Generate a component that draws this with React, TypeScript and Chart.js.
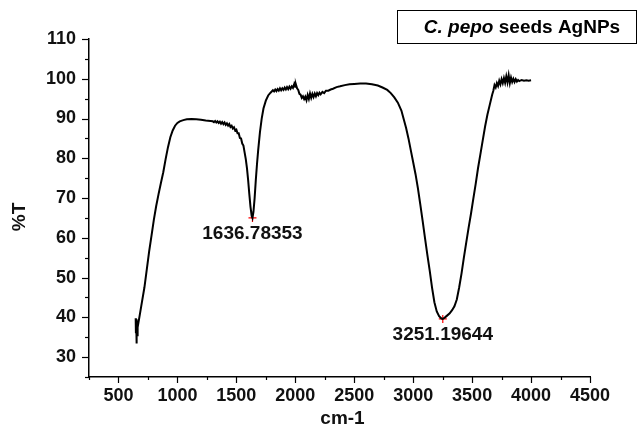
import React, { useEffect, useRef } from "react";
import { Chart, registerables } from "chart.js";

Chart.register(...registerables);

// Wavenumber (cm-1) and transmittance (%T)
const waveNumbers = [
  646, 648, 650, 652, 654, 656, 658, 660, 665, 680, 700, 720, 740, 760, 780, 800, 820, 840, 860, 880,
  900, 920, 940, 960, 980, 1000, 1020, 1050, 1080, 1120, 1160, 1200, 1240, 1280,
  1300, 1310, 1320, 1330, 1340, 1350, 1360, 1370, 1380, 1390, 1400, 1410, 1420, 1430, 1440, 1450,
  1460, 1470, 1480, 1490, 1500, 1510, 1520, 1530, 1540, 1550, 1560, 1570, 1580, 1590, 1600, 1610,
  1620, 1630, 1636.78, 1645, 1655, 1665, 1675, 1685, 1700, 1715, 1730, 1750, 1770, 1790,
  1800, 1810, 1820, 1830, 1840, 1850, 1860, 1870, 1880, 1890, 1900, 1910, 1920, 1930, 1940, 1950,
  1960, 1970, 1980, 1990, 1995, 2000, 2005, 2015, 2025, 2035, 2045, 2055, 2065, 2075, 2085, 2095,
  2105, 2115, 2125, 2135, 2145, 2155, 2165, 2175, 2185, 2195, 2205, 2215, 2230, 2245, 2260, 2280,
  2300, 2320, 2350, 2380, 2420, 2460, 2500, 2550, 2600, 2650, 2700, 2740, 2780, 2810, 2840, 2870,
  2900, 2920, 2940, 2960, 2980, 3000, 3020, 3040, 3060, 3080, 3100, 3120, 3140, 3160, 3180, 3200,
  3220, 3240, 3251.2, 3270, 3290, 3310, 3330, 3350, 3370, 3390, 3410, 3430, 3450, 3470, 3490, 3510,
  3530, 3550, 3570, 3590, 3610, 3630, 3650, 3670, 3680, 3690, 3700, 3710, 3720, 3730, 3740, 3750,
  3760, 3770, 3780, 3790, 3800, 3810, 3820, 3830, 3840, 3850, 3860, 3870, 3880, 3890, 3900, 3920,
  3940, 3960, 3980, 4000,
];
const transmittance = [
  39.8, 36.0, 39.5, 34.5, 33.4, 37.5, 35.5, 38.0, 37.5, 40.5, 44.0, 47.5, 52.0, 56.5, 60.5, 64.5, 68.0, 71.0, 73.8, 76.5,
  79.8, 82.8, 85.3, 87.0, 88.2, 88.9, 89.3, 89.6, 89.8, 89.9, 89.8, 89.7, 89.5, 89.4,
  89.3, 89.1, 89.4, 89.0, 89.3, 88.9, 89.2, 88.7, 89.1, 88.6, 89.0, 88.4, 88.8, 88.2, 88.6, 87.9,
  88.2, 87.5, 87.8, 87.0, 87.2, 86.3, 86.3, 85.1, 85.0, 83.7, 83.2, 81.5, 79.8, 77.5, 74.5, 71.0,
  67.8, 65.5, 65.0, 66.5, 70.0, 74.5, 78.5, 82.0, 86.5, 90.0, 92.5, 94.5, 95.8, 96.5,
  96.8, 97.1, 96.8, 97.3, 96.9, 97.4, 97.0, 97.6, 97.1, 97.6, 97.2, 97.8, 97.3, 97.9, 97.4, 98.0,
  97.5, 98.1, 97.7, 98.6, 99.3, 98.0, 98.6, 97.6, 97.2, 96.2, 96.0, 95.2, 95.6, 94.9, 95.5, 94.6,
  95.9, 94.9, 96.3, 95.2, 96.2, 95.4, 96.3, 95.6, 96.4, 95.9, 96.5, 96.1, 96.7, 96.4, 97.0, 97.0,
  97.3, 97.5, 97.9, 98.1, 98.4, 98.6, 98.7, 98.8, 98.8, 98.6, 98.3, 97.8, 97.2, 96.4, 95.3, 94.0,
  92.0, 89.8, 87.6, 85.0, 82.0, 79.0, 76.0, 72.5, 68.5, 64.3, 60.0, 55.8, 51.8, 47.5, 43.8, 41.5,
  40.3, 39.7, 39.6, 40.0, 40.5, 41.0, 41.8, 42.8, 44.5, 47.5, 51.0, 55.0, 58.8, 62.5, 66.0, 69.8,
  73.5, 77.5, 81.0, 84.5, 88.0, 91.0, 93.5, 96.0, 97.0, 98.4, 97.8, 98.9, 98.2, 99.5, 98.6, 99.9,
  98.9, 100.2, 99.0, 100.6, 99.1, 100.9, 98.9, 100.3, 99.2, 100.0, 99.2, 99.9, 99.3, 99.7, 99.4, 99.7,
  99.5, 99.6, 99.5, 99.6,
];

// Marked peaks
const peakX = [1636.78353, 3251.19644];
const peakY = [65.0, 39.6];
const peakLabels = ["1636.78353", "3251.19644"];

// Axis ticks
const xMajorTicks = [500, 1000, 1500, 2000, 2500, 3000, 3500, 4000, 4500];
const xMinorTicks = [250, 750, 1250, 1750, 2250, 2750, 3250, 3750, 4250];
const yMajorTicks = [30, 40, 50, 60, 70, 80, 90, 100, 110];
const yMinorTicks = [25, 35, 45, 55, 65, 75, 85, 95, 105];

const legendItalic = "C. pepo";
const legendRest = " seeds AgNPs";
const xTitle = "cm-1";
const yTitle = "%T";

const FONT = '"Liberation Sans", Arial, sans-serif';

export default function App() {
  const ref = useRef<HTMLCanvasElement | null>(null);

  useEffect(() => {
    document.body.style.margin = "0";
    const canvas = ref.current;
    if (!canvas) return;

    const decor = {
      id: "decor",
      afterDraw(chart: any) {
        const ctx = chart.ctx;
        const xs = chart.scales.x;
        const ys = chart.scales.y;
        const area = chart.chartArea;
        ctx.save();
        ctx.strokeStyle = "#000";
        ctx.lineWidth = 1.2;
        const drawX = (vals: number[], len: number) => {
          vals.forEach((v) => {
            const px = Math.round(xs.getPixelForValue(v)) + 0.5;
            ctx.beginPath();
            ctx.moveTo(px, area.bottom);
            ctx.lineTo(px, area.bottom + len);
            ctx.stroke();
          });
        };
        drawX(xMajorTicks, 6);
        drawX(xMinorTicks, 3);
        const drawY = (vals: number[], len: number) => {
          vals.forEach((v) => {
            const py = Math.round(ys.getPixelForValue(v)) + 0.5;
            ctx.beginPath();
            ctx.moveTo(area.left, py);
            ctx.lineTo(area.left - len, py);
            ctx.stroke();
          });
        };
        drawY(yMajorTicks, 7);
        drawY(yMinorTicks, 4);

        // peak labels
        ctx.fillStyle = "#111";
        ctx.font = `bold 19px ${FONT}`;
        ctx.textAlign = "center";
        ctx.textBaseline = "middle";
        peakX.forEach((x, i) => {
          const px = xs.getPixelForValue(x);
          const py = ys.getPixelForValue(peakY[i]);
          ctx.fillText(peakLabels[i], px, py + 16);
        });

        // axis titles
        ctx.font = `bold 19px ${FONT}`;
        ctx.fillText(xTitle, (area.left + area.right) / 2 + 3, 419);
        ctx.save();
        ctx.translate(20, 217);
        ctx.rotate(-Math.PI / 2);
        ctx.fillText(yTitle, 0, 0);
        ctx.restore();

        // legend box
        ctx.lineWidth = 1;
        ctx.strokeStyle = "#000";
        ctx.strokeRect(397.5, 10.5, 239, 33);
        const fItal = `italic bold 19px ${FONT}`;
        const fBold = `bold 19px ${FONT}`;
        ctx.font = fItal;
        const w1 = ctx.measureText(legendItalic).width;
        ctx.font = fBold;
        const w2 = ctx.measureText(legendRest).width;
        const startX = 522 - (w1 + w2) / 2;
        ctx.textAlign = "left";
        ctx.fillStyle = "#000";
        ctx.font = fItal;
        ctx.fillText(legendItalic, startX, 27.5);
        ctx.font = fBold;
        ctx.fillText(legendRest, startX + w1, 27.5);
        ctx.restore();
      },
    };

    const chart = new Chart(canvas, {
      type: "scatter",
      data: {
        datasets: [
          {
            data: waveNumbers.map((x, i) => ({ x, y: transmittance[i] })),
            showLine: true,
            borderColor: "#000",
            borderWidth: 2,
            pointRadius: 0,
            tension: 0,
          },
          {
            data: peakX.map((x, i) => ({ x, y: peakY[i] })),
            pointStyle: "cross",
            pointRadius: 4,
            borderColor: "#ff0000",
            backgroundColor: "#ff0000",
            borderWidth: 1.2,
          },
        ],
      },
      options: {
        responsive: false,
        animation: false,
        layout: { padding: { top: 39, right: 48, left: 0, bottom: 0 } },
        plugins: { legend: { display: false }, tooltip: { enabled: false } },
        scales: {
          x: {
            type: "linear",
            min: 250,
            max: 4500,
            grid: { display: false },
            border: { display: true, color: "#000", width: 1.5 },
            afterBuildTicks: (s: any) => {
              s.ticks = xMajorTicks.map((v) => ({ value: v }));
            },
            afterFit: (s: any) => {
              s.height = 52;
            },
            ticks: {
              color: "#111",
              font: { family: FONT, size: 18, weight: "bold" },
              padding: 0,
              maxRotation: 0,
              autoSkip: false,
              callback: (v: any) => String(v),
            },
          },
          y: {
            type: "linear",
            min: 25,
            max: 110,
            grid: { display: false },
            border: { display: true, color: "#000", width: 1.5 },
            afterBuildTicks: (s: any) => {
              s.ticks = yMajorTicks.map((v) => ({ value: v }));
            },
            afterFit: (s: any) => {
              s.width = 89;
            },
            ticks: {
              color: "#111",
              font: { family: FONT, size: 18, weight: "bold" },
              padding: 5,
              autoSkip: false,
              callback: (v: any) => String(v),
            },
          },
        },
      },
      plugins: [decor],
    });

    return () => chart.destroy();
  }, []);

  return (
    <div style={{ width: 638, height: 429 }}>
      <canvas ref={ref} width={638} height={429} style={{ display: "block" }} />
    </div>
  );
}
